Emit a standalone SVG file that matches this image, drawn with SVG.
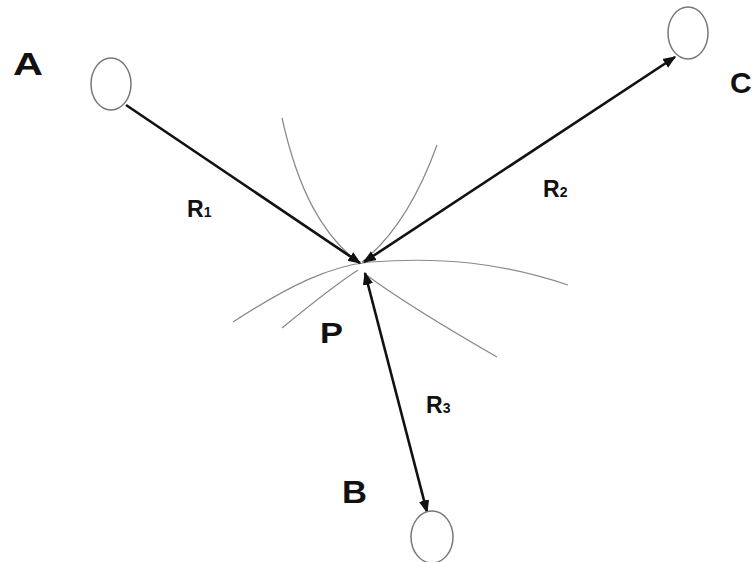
<svg xmlns="http://www.w3.org/2000/svg" width="753" height="562" viewBox="0 0 753 562">
<style>
.node{fill:#fff;stroke:#777;stroke-width:1.5}
.lbl{font-family:"Liberation Sans",Arial,sans-serif;font-weight:bold;fill:#111}
.curve{fill:none;stroke:#888;stroke-width:1.2}
.edge{fill:none;stroke:#111;stroke-width:2.6}
</style>
<defs>
<marker id="ah" viewBox="0 0 10 10" refX="9" refY="5" markerWidth="5" markerHeight="5" orient="auto-start-reverse" markerUnits="strokeWidth">
<path d="M0,1 L10,5 L0,9 Z" fill="#111"/>
</marker>
</defs>
<rect width="753" height="562" fill="#fff"/>
<g id="curves">
<path class="curve" d="M282,118 C298,190 322,235 360,264"/>
<path class="curve" d="M437,145 C420,192 395,236 362,262"/>
<path class="curve" d="M233,322 C290,285 330,266 370,262 C440,257 500,262 568,285"/>
<path class="curve" d="M282,328 C310,305 335,285 358,270"/>
<path class="curve" d="M365,274 C400,300 450,330 497,357"/>
</g>
<g id="connectors">
<path class="edge" d="M126,105 L360,263" marker-end="url(#ah)"/>
<path class="edge" d="M364,262 L675,57" marker-start="url(#ah)" marker-end="url(#ah)"/>
<path class="edge" d="M365,273 L427,512" marker-start="url(#ah)" marker-end="url(#ah)"/>
</g>
<g id="nodeA">
<ellipse class="node" cx="111" cy="84" rx="20" ry="26"/>
<text class="lbl" x="13" y="75" font-size="31" textLength="30" lengthAdjust="spacingAndGlyphs">A</text>
</g>
<g id="nodeC">
<ellipse class="node" cx="688" cy="33" rx="20" ry="26"/>
<text class="lbl" x="730" y="93" font-size="30">C</text>
</g>
<g id="nodeB">
<ellipse class="node" cx="432" cy="537" rx="21" ry="26"/>
<text class="lbl" x="342" y="503" font-size="31" textLength="25" lengthAdjust="spacingAndGlyphs">B</text>
</g>
<g id="nodeP">
<text class="lbl" x="320" y="343" font-size="30" textLength="23" lengthAdjust="spacingAndGlyphs">P</text>
</g>
<g id="labels">
<text class="lbl" x="187" y="217" font-size="23">R<tspan font-size="14">1</tspan></text>
<text class="lbl" x="543" y="197" font-size="23">R<tspan font-size="14">2</tspan></text>
<text class="lbl" x="426" y="413" font-size="23">R<tspan font-size="14">3</tspan></text>
</g>
</svg>
